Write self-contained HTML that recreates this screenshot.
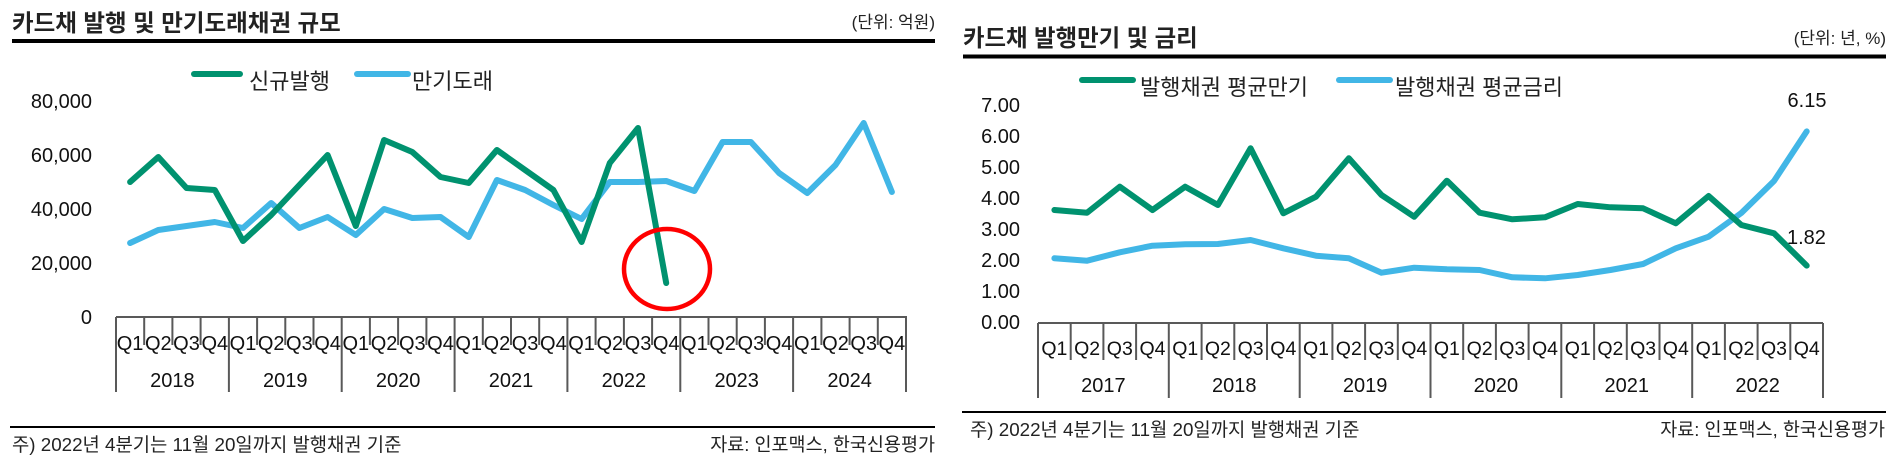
<!DOCTYPE html>
<html><head><meta charset="utf-8"><style>
html,body{margin:0;padding:0;background:#fff;}
svg{display:block;}
.t{font-family:"Liberation Sans","Noto Sans CJK KR",sans-serif;fill:#111;}
.k{font-family:"Liberation Sans","Noto Sans CJK KR",sans-serif;fill:#222;}
</style></head><body>
<svg width="1900" height="463" viewBox="0 0 1900 463" xmlns="http://www.w3.org/2000/svg">
<!-- LEFT CHART -->
<text class="k" x="12" y="31" font-size="23.5" font-weight="bold">카드채 발행 및 만기도래채권 규모</text>
<text class="k" x="935" y="28" font-size="17" text-anchor="end">(단위: 억원)</text>
<rect x="12" y="39" width="923" height="4" fill="#000"/>
<!-- legend -->
<line x1="194" y1="74" x2="240" y2="74" stroke="#00926f" stroke-width="6" stroke-linecap="round"/>
<text class="k" x="249" y="89" font-size="22">신규발행</text>
<line x1="357" y1="74" x2="408" y2="74" stroke="#41b6e6" stroke-width="6" stroke-linecap="round"/>
<text class="k" x="412" y="89" font-size="22">만기도래</text>
<!-- y labels -->
<g class="t" font-size="20" text-anchor="end">
<text x="92" y="108">80,000</text>
<text x="92" y="162">60,000</text>
<text x="92" y="216">40,000</text>
<text x="92" y="270">20,000</text>
<text x="92" y="324">0</text>
</g>
<!-- x axis -->
<g stroke="#595959" stroke-width="2">
<line x1="116" y1="317" x2="907" y2="317"/>
<line x1="116" y1="317" x2="116" y2="392"/>
<line x1="144.2" y1="317" x2="144.2" y2="345"/>
<line x1="172.4" y1="317" x2="172.4" y2="345"/>
<line x1="200.6" y1="317" x2="200.6" y2="345"/>
<line x1="228.9" y1="317" x2="228.9" y2="392"/>
<line x1="257.1" y1="317" x2="257.1" y2="345"/>
<line x1="285.3" y1="317" x2="285.3" y2="345"/>
<line x1="313.5" y1="317" x2="313.5" y2="345"/>
<line x1="341.7" y1="317" x2="341.7" y2="392"/>
<line x1="369.9" y1="317" x2="369.9" y2="345"/>
<line x1="398.1" y1="317" x2="398.1" y2="345"/>
<line x1="426.4" y1="317" x2="426.4" y2="345"/>
<line x1="454.6" y1="317" x2="454.6" y2="392"/>
<line x1="482.8" y1="317" x2="482.8" y2="345"/>
<line x1="511.0" y1="317" x2="511.0" y2="345"/>
<line x1="539.2" y1="317" x2="539.2" y2="345"/>
<line x1="567.4" y1="317" x2="567.4" y2="392"/>
<line x1="595.6" y1="317" x2="595.6" y2="345"/>
<line x1="623.9" y1="317" x2="623.9" y2="345"/>
<line x1="652.1" y1="317" x2="652.1" y2="345"/>
<line x1="680.3" y1="317" x2="680.3" y2="392"/>
<line x1="708.5" y1="317" x2="708.5" y2="345"/>
<line x1="736.7" y1="317" x2="736.7" y2="345"/>
<line x1="764.9" y1="317" x2="764.9" y2="345"/>
<line x1="793.1" y1="317" x2="793.1" y2="392"/>
<line x1="821.4" y1="317" x2="821.4" y2="345"/>
<line x1="849.6" y1="317" x2="849.6" y2="345"/>
<line x1="877.8" y1="317" x2="877.8" y2="345"/>
<line x1="906" y1="317" x2="906" y2="392"/>
</g>
<g class="t" font-size="20" text-anchor="middle">
<text x="130.1" y="350">Q1</text><text x="158.3" y="350">Q2</text><text x="186.5" y="350">Q3</text><text x="214.8" y="350">Q4</text>
<text x="243.0" y="350">Q1</text><text x="271.2" y="350">Q2</text><text x="299.4" y="350">Q3</text><text x="327.6" y="350">Q4</text>
<text x="355.8" y="350">Q1</text><text x="384.1" y="350">Q2</text><text x="412.3" y="350">Q3</text><text x="440.5" y="350">Q4</text>
<text x="468.7" y="350">Q1</text><text x="496.9" y="350">Q2</text><text x="525.1" y="350">Q3</text><text x="553.4" y="350">Q4</text>
<text x="581.6" y="350">Q1</text><text x="609.8" y="350">Q2</text><text x="638.0" y="350">Q3</text><text x="666.2" y="350">Q4</text>
<text x="694.4" y="350">Q1</text><text x="722.6" y="350">Q2</text><text x="750.9" y="350">Q3</text><text x="779.1" y="350">Q4</text>
<text x="807.3" y="350">Q1</text><text x="835.5" y="350">Q2</text><text x="863.7" y="350">Q3</text><text x="891.9" y="350">Q4</text>
<text x="172.4" y="387">2018</text>
<text x="285.3" y="387">2019</text>
<text x="398.1" y="387">2020</text>
<text x="511.0" y="387">2021</text>
<text x="623.9" y="387">2022</text>
<text x="736.7" y="387">2023</text>
<text x="849.6" y="387">2024</text>
</g>
<!-- series -->
<polyline fill="none" stroke="#41b6e6" stroke-width="6" stroke-linejoin="round" stroke-linecap="round"
points="130.1,243 158.3,230 186.5,226 214.8,222 243.0,228 271.2,203 299.4,228 327.6,217 355.8,235 384.1,209 412.3,218 440.5,217 468.7,237 496.9,180 525.1,190 553.4,205 581.6,219 609.8,182 638.0,182 666.2,181 694.4,191 722.6,142 750.9,142 779.1,173 807.3,193 835.5,165 863.7,123 891.9,192"/>
<polyline fill="none" stroke="#00926f" stroke-width="6" stroke-linejoin="round" stroke-linecap="round"
points="130.1,182 158.3,157 186.5,188 214.8,190 243.0,241 271.2,215 299.4,185 327.6,155 355.8,226 384.1,140 412.3,152 440.5,177 468.7,183 496.9,150 525.1,170 553.4,190 581.6,242 609.8,163 638.0,128 666.2,283"/>
<ellipse cx="667" cy="269" rx="43" ry="40" fill="none" stroke="#ff0000" stroke-width="4.5"/>
<!-- footer -->
<rect x="10" y="426" width="925" height="2" fill="#000"/>
<text class="k" x="12" y="451" font-size="18.8">주) 2022년 4분기는 11월 20일까지 발행채권 기준</text>
<text class="k" x="935" y="451" font-size="18.5" text-anchor="end">자료: 인포맥스, 한국신용평가</text>

<!-- RIGHT CHART -->
<text class="k" x="963" y="46" font-size="23.4" font-weight="bold">카드채 발행만기 및 금리</text>
<text class="k" x="1886" y="44" font-size="17" text-anchor="end">(단위: 년, %)</text>
<rect x="963" y="54.5" width="923" height="4" fill="#000"/>
<line x1="1082" y1="80" x2="1133" y2="80" stroke="#00926f" stroke-width="6" stroke-linecap="round"/>
<text class="k" x="1140" y="95" font-size="22">발행채권 평균만기</text>
<line x1="1339" y1="80" x2="1390" y2="80" stroke="#41b6e6" stroke-width="6" stroke-linecap="round"/>
<text class="k" x="1395" y="95" font-size="22">발행채권 평균금리</text>
<g class="t" font-size="20" text-anchor="end">
<text x="1020" y="112">7.00</text>
<text x="1020" y="143">6.00</text>
<text x="1020" y="174">5.00</text>
<text x="1020" y="205">4.00</text>
<text x="1020" y="236">3.00</text>
<text x="1020" y="267">2.00</text>
<text x="1020" y="298">1.00</text>
<text x="1020" y="329">0.00</text>
</g>
<g stroke="#595959" stroke-width="2">
<line x1="1038" y1="323" x2="1823" y2="323"/>
<line x1="1038" y1="323" x2="1038" y2="398"/>
<line x1="1070.7" y1="323" x2="1070.7" y2="360"/>
<line x1="1103.4" y1="323" x2="1103.4" y2="360"/>
<line x1="1136.1" y1="323" x2="1136.1" y2="360"/>
<line x1="1168.8" y1="323" x2="1168.8" y2="398"/>
<line x1="1201.6" y1="323" x2="1201.6" y2="360"/>
<line x1="1234.3" y1="323" x2="1234.3" y2="360"/>
<line x1="1267.0" y1="323" x2="1267.0" y2="360"/>
<line x1="1299.7" y1="323" x2="1299.7" y2="398"/>
<line x1="1332.4" y1="323" x2="1332.4" y2="360"/>
<line x1="1365.1" y1="323" x2="1365.1" y2="360"/>
<line x1="1397.8" y1="323" x2="1397.8" y2="360"/>
<line x1="1430.5" y1="323" x2="1430.5" y2="398"/>
<line x1="1463.2" y1="323" x2="1463.2" y2="360"/>
<line x1="1495.9" y1="323" x2="1495.9" y2="360"/>
<line x1="1528.6" y1="323" x2="1528.6" y2="360"/>
<line x1="1561.3" y1="323" x2="1561.3" y2="398"/>
<line x1="1594.1" y1="323" x2="1594.1" y2="360"/>
<line x1="1626.8" y1="323" x2="1626.8" y2="360"/>
<line x1="1659.5" y1="323" x2="1659.5" y2="360"/>
<line x1="1692.2" y1="323" x2="1692.2" y2="398"/>
<line x1="1724.9" y1="323" x2="1724.9" y2="360"/>
<line x1="1757.6" y1="323" x2="1757.6" y2="360"/>
<line x1="1790.3" y1="323" x2="1790.3" y2="360"/>
<line x1="1823" y1="323" x2="1823" y2="398"/>
</g>
<g class="t" font-size="19.5" text-anchor="middle">
<text x="1054.4" y="355">Q1</text><text x="1087.1" y="355">Q2</text><text x="1119.8" y="355">Q3</text><text x="1152.5" y="355">Q4</text>
<text x="1185.2" y="355">Q1</text><text x="1217.9" y="355">Q2</text><text x="1250.6" y="355">Q3</text><text x="1283.3" y="355">Q4</text>
<text x="1316.0" y="355">Q1</text><text x="1348.8" y="355">Q2</text><text x="1381.5" y="355">Q3</text><text x="1414.2" y="355">Q4</text>
<text x="1446.9" y="355">Q1</text><text x="1479.6" y="355">Q2</text><text x="1512.3" y="355">Q3</text><text x="1545.0" y="355">Q4</text>
<text x="1577.7" y="355">Q1</text><text x="1610.4" y="355">Q2</text><text x="1643.1" y="355">Q3</text><text x="1675.8" y="355">Q4</text>
<text x="1708.6" y="355">Q1</text><text x="1741.3" y="355">Q2</text><text x="1774.0" y="355">Q3</text><text x="1806.7" y="355">Q4</text>
</g>
<g class="t" font-size="20" text-anchor="middle">
<text x="1103.4" y="392">2017</text>
<text x="1234.3" y="392">2018</text>
<text x="1365.1" y="392">2019</text>
<text x="1495.9" y="392">2020</text>
<text x="1626.8" y="392">2021</text>
<text x="1757.6" y="392">2022</text>
</g>
<polyline fill="none" stroke="#41b6e6" stroke-width="6" stroke-linejoin="round" stroke-linecap="round"
points="1054.4,258.3 1087.1,260.7 1119.8,252.3 1152.5,245.7 1185.2,244.3 1217.9,244 1250.6,240 1283.3,248.3 1316.0,255.7 1348.8,258.3 1381.5,272.7 1414.2,267.7 1446.9,269.3 1479.6,270 1512.3,277.3 1545.0,278.3 1577.7,275 1610.4,270 1643.1,264 1675.8,248.3 1708.6,236.7 1741.3,213 1774.0,181 1806.7,131.4"/>
<polyline fill="none" stroke="#00926f" stroke-width="6" stroke-linejoin="round" stroke-linecap="round"
points="1054.4,210 1087.1,212.7 1119.8,186.7 1152.5,210 1185.2,186.7 1217.9,205 1250.6,148.3 1283.3,213.3 1316.0,196.7 1348.8,158.3 1381.5,195 1414.2,216.7 1446.9,180.7 1479.6,212.7 1512.3,219.3 1545.0,217.3 1577.7,204 1610.4,207.3 1643.1,208.3 1675.8,223.3 1708.6,196 1741.3,225 1774.0,233.3 1806.7,265.6"/>
<text class="t" x="1807" y="107" font-size="20" text-anchor="middle">6.15</text>
<text class="t" x="1787" y="244" font-size="20">1.82</text>
<rect x="962" y="411" width="924" height="2" fill="#000"/>
<text class="k" x="970" y="436" font-size="18.8">주) 2022년 4분기는 11월 20일까지 발행채권 기준</text>
<text class="k" x="1885" y="436" font-size="18.5" text-anchor="end">자료: 인포맥스, 한국신용평가</text>
</svg>
</body></html>
